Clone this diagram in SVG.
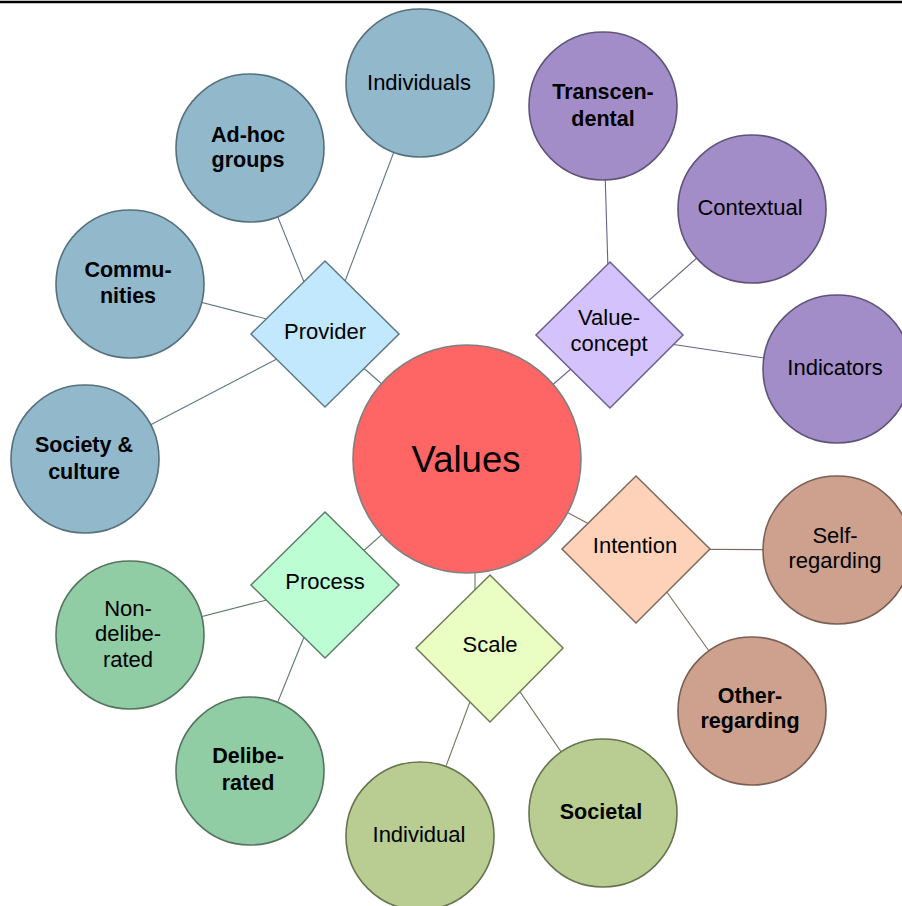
<svg xmlns="http://www.w3.org/2000/svg" width="902" height="906" viewBox="0 0 902 906">
<style>
text{font-family:"Liberation Sans",Arial,sans-serif;font-size:22px;fill:#000;text-anchor:middle}
.b{font-weight:bold;font-size:21.5px}
.c{stroke-width:1.6}
.d{stroke-width:1.5}
#connectors line{stroke-width:1.1}
.pv{fill:#92B8CC;stroke:#56707C}
.pvd{fill:#C2E8FD;stroke:#5C7884}
.vc{fill:#A38DC9;stroke:#5E5478}
.vcd{fill:#D4C2FD;stroke:#6A6088}
.in{fill:#CDA18D;stroke:#7A5F55}
.ind{fill:#FED2B9;stroke:#7E6A60}
.sc{fill:#B9CC91;stroke:#66744E}
.scd{fill:#EAFDC2;stroke:#6E7A58}
.pr{fill:#90CCA4;stroke:#55735F}
.prd{fill:#BCFDD3;stroke:#5E7B68}
</style>
<rect width="902" height="906" fill="#fff"/>
<line x1="0" y1="2" x2="902" y2="2" stroke="#000" stroke-width="2.5"/>
<g id="connectors">
<g stroke="#5F7782">
<line x1="420" y1="83" x2="325" y2="334"/>
<line x1="250" y1="148" x2="325" y2="334"/>
<line x1="130" y1="284" x2="325" y2="334"/>
<line x1="85" y1="459" x2="325" y2="334"/>
<line x1="325" y1="334" x2="467" y2="459"/>
</g>
<g stroke="#6A6088">
<line x1="603" y1="106" x2="610" y2="335"/>
<line x1="752" y1="209" x2="610" y2="335"/>
<line x1="837" y1="369" x2="610" y2="335"/>
<line x1="610" y1="335" x2="467" y2="459"/>
</g>
<g stroke="#7E6A60">
<line x1="467" y1="459" x2="636" y2="549"/>
<line x1="636" y1="549" x2="837" y2="550"/>
<line x1="636" y1="549" x2="752" y2="711"/>
</g>
<g stroke="#6E7A58">
<line x1="475" y1="540" x2="475" y2="600"/>
<line x1="490" y1="648" x2="420" y2="836"/>
<line x1="490" y1="648" x2="603" y2="813"/>
</g>
<g stroke="#5E7B68">
<line x1="467" y1="459" x2="325" y2="585"/>
<line x1="130" y1="635" x2="325" y2="585"/>
<line x1="250" y1="771" x2="325" y2="585"/>
</g>
</g>
<g id="values"><circle cx="467" cy="459" r="114" fill="#FE6565" stroke="#808080" stroke-width="1.6"/><text x="466" y="472" style="font-size:36.5px">Values</text></g>
<g id="provider"><polygon class="pvd d" points="325,261 399,334 325,407 251,334"/><text x="325" y="339">Provider</text></g>
<g id="individuals"><circle class="pv c" cx="420" cy="83" r="74"/><text x="419" y="90">Individuals</text></g>
<g id="adhoc"><circle class="pv c" cx="250" cy="148" r="74"/><text class="b" x="248" y="142">Ad-hoc</text><text class="b" x="248" y="167">groups</text></g>
<g id="communities"><circle class="pv c" cx="130" cy="284" r="74"/><text class="b" x="128" y="277">Commu-</text><text class="b" x="128" y="303">nities</text></g>
<g id="society"><circle class="pv c" cx="85" cy="459" r="74"/><text class="b" x="84" y="452">Society &amp;</text><text class="b" x="84" y="479">culture</text></g>
<g id="valueconcept"><polygon class="vcd d" points="610,262 683,335 610,408 536,335"/><text x="609" y="325">Value-</text><text x="609" y="351">concept</text></g>
<g id="transcendental"><circle class="vc c" cx="603" cy="106" r="74"/><text class="b" x="603" y="99">Transcen-</text><text class="b" x="603" y="126">dental</text></g>
<g id="contextual"><circle class="vc c" cx="752" cy="209" r="74"/><text x="750" y="215">Contextual</text></g>
<g id="indicators"><circle class="vc c" cx="837" cy="369" r="74"/><text x="835" y="375">Indicators</text></g>
<g id="intention"><polygon class="ind d" points="636,476 710,549 636,623 562,549"/><text x="635" y="553">Intention</text></g>
<g id="selfregarding"><circle class="in c" cx="837" cy="550" r="74"/><text x="835" y="543">Self-</text><text x="835" y="568">regarding</text></g>
<g id="otherregarding"><circle class="in c" cx="752" cy="711" r="74"/><text class="b" x="750" y="703">Other-</text><text class="b" x="750" y="728">regarding</text></g>
<g id="scale"><polygon class="scd d" points="490,575 563,648 490,722 416,648"/><text x="490" y="652">Scale</text></g>
<g id="individual"><circle class="sc c" cx="420" cy="836" r="74"/><text x="419" y="842">Individual</text></g>
<g id="societal"><circle class="sc c" cx="603" cy="813" r="74"/><text class="b" x="601" y="819">Societal</text></g>
<g id="process"><polygon class="prd d" points="325,512 399,585 325,658 251,585"/><text x="325" y="589">Process</text></g>
<g id="nondeliberated"><circle class="pr c" cx="130" cy="635" r="74"/><text x="128" y="616">Non-</text><text x="128" y="641">delibe-</text><text x="128" y="667">rated</text></g>
<g id="deliberated"><circle class="pr c" cx="250" cy="771" r="74"/><text class="b" x="248" y="763">Delibe-</text><text class="b" x="248" y="790">rated</text></g>
</svg>
